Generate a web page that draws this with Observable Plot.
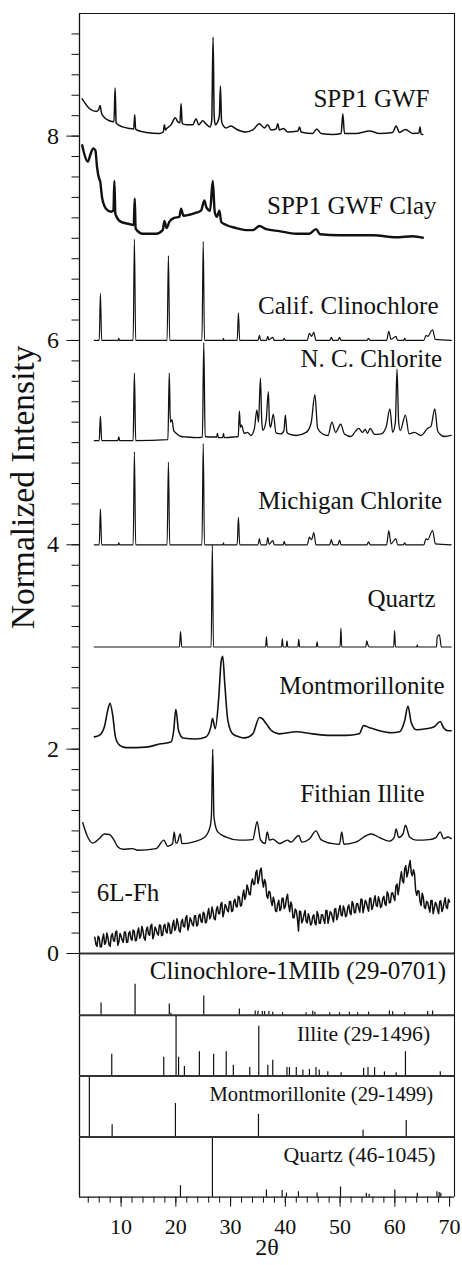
<!DOCTYPE html>
<html><head><meta charset="utf-8">
<script src="https://cdn.jsdelivr.net/npm/d3@7"></script>
<script src="https://cdn.jsdelivr.net/npm/@observablehq/plot@0.6"></script>
<style>html,body{margin:0;padding:0;background:#fff;} svg{display:block;}</style>
</head><body><div id="chart"></div>
<script>
// ---------- data: patterns as [2θ, normalized intensity above the trace's offset] ----------
const sampleNames = ["SPP1 GWF","SPP1 GWF Clay","Calif. Clinochlore","N. C. Chlorite","Michigan Chlorite","Quartz","Montmorillonite","Fithian Illite","6L-Fh"];
const sampleOffsets = [8,7,6,5,4,3,2,1,0];

const spp1Gwf = [[2.9,0.365],[4.21,0.27],[5.42,0.24],[5.9,0.26],[6.16,0.30],[6.4,0.23],[6.64,0.20],[7.86,0.15],[8.7,0.14],[8.9,0.47],[9.1,0.13],[9.2,0.12],[10.3,0.09],[11.5,0.075],[12.3,0.07],[12.49,0.21],[12.65,0.07],[12.85,0.06],[14.56,0.036],[17.0,0.026],[17.7,0.04],[17.91,0.11],[18.1,0.06],[18.34,0.075],[19.1,0.11],[19.9,0.18],[20.35,0.14],[20.75,0.13],[20.95,0.32],[21.15,0.13],[21.26,0.12],[22.17,0.11],[23.09,0.11],[23.7,0.17],[24.18,0.11],[24.9,0.15],[25.5,0.12],[26.25,0.09],[26.55,0.15],[26.8,0.97],[27.0,0.2],[27.2,0.11],[27.65,0.14],[27.95,0.2],[28.14,0.49],[28.35,0.15],[28.57,0.11],[29.18,0.08],[30.09,0.10],[31.0,0.07],[32.83,0.04],[34.05,0.06],[35.27,0.12],[36.18,0.08],[36.79,0.11],[37.4,0.06],[38.3,0.07],[38.62,0.12],[38.9,0.06],[39.65,0.075],[40.44,0.04],[42.3,0.05],[42.58,0.09],[42.9,0.04],[43.2,0.036],[45.0,0.026],[45.74,0.07],[46.5,0.026],[48.7,0.016],[50.2,0.026],[50.5,0.22],[50.8,0.026],[52.9,0.026],[55.4,0.05],[57.2,0.026],[59.6,0.036],[60.24,0.10],[60.85,0.036],[61.94,0.065],[63.28,0.026],[64.4,0.03],[64.6,0.09],[64.8,0.02],[65.1,0.016]];

const spp1Clay = [[2.9,0.91],[3.3,0.82],[3.9,0.75],[4.4,0.82],[4.9,0.88],[5.3,0.86],[5.6,0.7],[5.9,0.6],[6.2,0.55],[6.52,0.40],[7.25,0.29],[8.17,0.26],[8.6,0.27],[8.77,0.56],[8.95,0.24],[9.08,0.22],[9.99,0.16],[11.5,0.14],[12.3,0.13],[12.49,0.39],[12.65,0.1],[12.85,0.08],[13.95,0.045],[16.39,0.045],[17.6,0.08],[17.91,0.17],[18.3,0.10],[18.8,0.16],[19.7,0.20],[20.65,0.21],[20.95,0.29],[21.4,0.22],[22.5,0.23],[23.7,0.25],[24.6,0.27],[25.2,0.37],[25.6,0.30],[26.25,0.27],[26.74,0.56],[27.1,0.26],[27.5,0.21],[27.96,0.27],[28.3,0.16],[29.2,0.13],[31.0,0.10],[32.8,0.08],[34.05,0.08],[35.27,0.12],[36.5,0.09],[38.9,0.07],[42.0,0.045],[44.4,0.045],[45.6,0.09],[46.35,0.04],[49.9,0.03],[54.1,0.03],[56.0,0.03],[60.2,0.01],[63.3,0.02],[65.1,0.005]];

const califClinochlore = [[5.1,0],[6.0,0],[6.22,0.46],[6.45,0],[9.45,0],[9.57,0.02],[9.7,0],[12.2,0],[12.43,0.99],[12.66,0],[18.4,0],[18.64,0.83],[18.88,0],[24.77,0],[25.0,0.97],[25.23,0],[28.6,0],[28.69,0.02],[28.8,0],[31.2,0],[31.43,0.27],[31.66,0],[35.0,0],[35.27,0.05],[35.5,0],[36.55,0],[36.79,0.04],[37.0,0.005],[37.7,0.03],[38.0,0],[39.6,0],[39.8,0.02],[40.0,0],[44.0,0],[44.4,0.07],[44.8,0.04],[45.2,0.08],[45.6,0],[48.1,0],[48.4,0.03],[48.7,0],[49.6,0],[49.9,0.03],[50.2,0],[54.9,0],[55.2,0.02],[55.5,0],[58.5,0],[58.9,0.09],[59.3,0.01],[60.2,0.04],[60.5,0],[61.6,0],[61.8,0.02],[62.0,0],[65.3,0],[65.7,0.05],[66.0,0.04],[66.9,0.105],[67.4,0.01],[70.3,0]];

const ncChlorite = [[5.1,0.02],[6.0,0.02],[6.22,0.26],[6.45,0.02],[9.4,0.02],[9.57,0.055],[9.75,0.02],[12.2,0.02],[12.43,0.68],[12.66,0.02],[18.55,0.03],[18.8,0.68],[19.0,0.2],[19.3,0.225],[19.6,0.12],[20.0,0.095],[21.0,0.06],[22.0,0.055],[24.0,0.05],[24.85,0.055],[25.1,0.98],[25.35,0.06],[26.7,0.055],[27.45,0.055],[27.6,0.09],[27.75,0.05],[28.55,0.05],[28.7,0.09],[28.85,0.05],[30.5,0.055],[31.4,0.06],[31.6,0.31],[31.8,0.15],[32.0,0.17],[32.5,0.09],[33.1,0.10],[33.7,0.07],[34.35,0.14],[34.8,0.32],[35.1,0.2],[35.45,0.63],[35.7,0.2],[35.9,0.12],[36.5,0.22],[36.9,0.50],[37.1,0.2],[37.3,0.15],[37.8,0.28],[38.3,0.095],[39.2,0.085],[39.75,0.12],[40.0,0.27],[40.3,0.1],[40.6,0.085],[42.0,0.07],[43.8,0.10],[44.7,0.19],[45.4,0.47],[45.9,0.14],[46.8,0.085],[47.8,0.07],[48.5,0.20],[49.2,0.1],[50.1,0.18],[50.8,0.085],[52.0,0.06],[52.8,0.11],[53.4,0.14],[54.1,0.1],[54.6,0.13],[55.0,0.09],[55.5,0.14],[56.3,0.08],[57.5,0.085],[58.4,0.15],[59.1,0.33],[59.6,0.10],[60.1,0.2],[60.4,0.72],[60.7,0.2],[61.0,0.12],[61.94,0.27],[62.6,0.085],[63.6,0.10],[64.8,0.07],[66.0,0.14],[66.6,0.16],[67.3,0.33],[67.8,0.12],[68.2,0.085],[69.1,0.06],[70.3,0.07]];

const michiganChlorite = [[5.1,0],[6.0,0],[6.22,0.35],[6.45,0],[9.45,0],[9.57,0.02],[9.7,0],[12.2,0],[12.43,0.91],[12.66,0],[18.4,0],[18.64,0.81],[18.88,0],[24.77,0],[25.0,0.99],[25.23,0],[28.6,0],[28.7,0.02],[28.8,0],[31.2,0],[31.43,0.27],[31.66,0],[35.0,0],[35.27,0.06],[35.5,0],[36.55,0],[36.79,0.07],[37.05,0.005],[37.7,0.04],[38.0,0],[39.6,0],[39.8,0.035],[40.0,0],[44.0,0],[44.4,0.075],[44.8,0.05],[45.2,0.12],[45.6,0],[48.1,0],[48.4,0.05],[48.7,0],[49.6,0],[49.9,0.045],[50.2,0],[54.9,0],[55.2,0.03],[55.5,0],[58.5,0],[58.9,0.14],[59.3,0.01],[60.2,0.06],[60.5,0],[61.6,0],[61.8,0.02],[62.0,0],[65.3,0],[65.7,0.06],[66.0,0.05],[66.9,0.14],[67.4,0.01],[70.3,0]];

const quartz = [[5.1,0],[20.65,0],[20.86,0.15],[21.07,0],[26.45,0],[26.66,1.0],[26.87,0],[36.4,0],[36.55,0.10],[36.7,0],[39.3,0],[39.45,0.08],[39.6,0],[40.15,0],[40.3,0.06],[40.45,0],[42.3,0],[42.45,0.075],[42.6,0],[45.65,0],[45.8,0.05],[45.95,0],[50.0,0],[50.15,0.185],[50.3,0],[54.7,0],[54.87,0.06],[55.1,0.02],[55.3,0],[59.8,0],[59.96,0.16],[60.12,0],[64.0,0],[64.1,0.02],[64.2,0],[67.6,0],[67.75,0.10],[68.15,0.12],[68.3,0.07],[68.5,0],[70.3,0]];

const montmorillonite = [[5.12,0.12],[6.0,0.135],[6.95,0.22],[7.56,0.38],[7.98,0.45],[8.47,0.33],[8.96,0.12],[9.69,0.04],[10.9,0.015],[14.56,0.02],[17.0,0.05],[19.1,0.07],[19.6,0.18],[20.0,0.39],[20.5,0.18],[21.3,0.11],[23.7,0.10],[25.5,0.12],[26.4,0.22],[26.7,0.30],[27.2,0.20],[27.8,0.48],[28.3,0.87],[28.57,0.91],[28.9,0.67],[29.5,0.28],[30.4,0.15],[31.6,0.12],[32.5,0.11],[34.05,0.15],[35.27,0.31],[35.75,0.30],[36.5,0.25],[37.4,0.185],[38.9,0.15],[42.0,0.17],[45.0,0.15],[48.1,0.135],[51.1,0.135],[53.5,0.15],[54.3,0.23],[55.4,0.21],[57.2,0.18],[59.3,0.16],[60.85,0.17],[61.76,0.27],[62.4,0.42],[63.0,0.26],[63.9,0.19],[65.7,0.20],[67.2,0.22],[68.3,0.27],[68.9,0.21],[69.7,0.18],[70.3,0.18]];

const fithianIllite = [[2.99,0.28],[3.9,0.14],[4.8,0.08],[6.03,0.125],[6.95,0.17],[7.86,0.165],[8.65,0.115],[9.38,0.045],[10.3,0.02],[12.1,0.027],[13.0,0.01],[16.4,0.027],[17.8,0.11],[18.5,0.05],[19.4,0.075],[19.7,0.19],[20.0,0.08],[20.2,0.08],[20.8,0.17],[21.1,0.075],[23.1,0.09],[25.2,0.135],[26.25,0.24],[26.5,0.35],[26.74,1.0],[26.95,0.35],[27.05,0.30],[27.65,0.19],[29.2,0.14],[31.6,0.11],[34.05,0.115],[34.85,0.29],[35.45,0.115],[36.3,0.076],[36.7,0.19],[37.1,0.11],[37.7,0.12],[38.9,0.076],[40.4,0.11],[41.0,0.09],[42.45,0.155],[43.0,0.09],[44.4,0.12],[45.6,0.20],[46.5,0.115],[48.7,0.075],[49.9,0.07],[50.3,0.19],[50.7,0.07],[52.9,0.09],[54.8,0.155],[55.7,0.17],[57.2,0.135],[59.0,0.10],[59.9,0.14],[60.24,0.22],[60.7,0.135],[61.5,0.17],[61.94,0.255],[62.7,0.14],[63.9,0.11],[66.3,0.115],[67.5,0.135],[68.3,0.19],[68.9,0.125],[69.7,0.14],[70.3,0.125]];

// 6L-Fh raw noisy scan: readings on the 0.4° grid from 5.2°, and on the in-between grid from 5.4°
const fhStart = 5.2, fhStep = 0.4;
const fhIntensity = [.16,.07,.155,.065,.19,.11,.155,.07,.195,.12,
.22,.115,.17,.11,.21,.11,.215,.13,.215,.13,
.25,.175,.22,.13,.26,.18,.285,.18,.235,.18,
.275,.18,.285,.20,.285,.20,.325,.25,.295,.21,
.335,.26,.37,.27,.325,.27,.37,.28,.385,.305,
.39,.31,.44,.365,.41,.33,.46,.39,.50,.40,
.46,.41,.51,.42,.53,.455,.55,.47,.62,.565,
.635,.575,.73,.68,.815,.73,.835,.65,.69,.54,
.60,.47,.51,.41,.52,.44,.54,.46,.58,.41,
.47,.35,.42,.22,.41,.325,.42,.30,.35,.29,
.38,.28,.38,.295,.38,.295,.42,.35,.395,.31,
.44,.365,.47,.37,.43,.375,.475,.38,.485,.40,
.49,.405,.53,.455,.50,.415,.54,.46,.565,.46,
.52,.465,.56,.47,.58,.50,.595,.52,.68,.65,
.80,.69,.86,.79,.91,.76,.78,.57,.61,.47,
.55,.44,.50,.405,.52,.44,.48,.39,.515,.44,
.545,.44,.505];
const fhIntensityMid = [.09,.17,.065,.145,.09,.20,.085,.17,.125,.21,
.08,.195,.13,.21,.11,.20,.145,.23,.125,.21,
.15,.265,.15,.23,.19,.27,.145,.26,.195,.28,
.175,.27,.215,.30,.195,.28,.225,.34,.225,.31,
.265,.35,.23,.35,.285,.37,.27,.37,.315,.405,
.30,.39,.34,.455,.34,.43,.39,.48,.36,.48,
.42,.51,.41,.51,.46,.56,.465,.565,.53,.67,
.58,.69,.675,.79,.685,.815,.71,.725,.565,.61,
.51,.55,.415,.485,.42,.54,.44,.54,.47,.505,
.35,.435,.345,.415,.30,.38,.315,.39,.28,.36,
.30,.41,.295,.38,.33,.42,.295,.41,.35,.435,
.33,.43,.375,.465,.36,.45,.40,.51,.40,.485,
.44,.53,.40,.52,.45,.54,.43,.52,.47,.555,
.45,.54,.485,.605,.495,.59,.55,.66,.575,.735,
.71,.83,.75,.86,.79,.82,.62,.615,.51,.59,
.45,.51,.45,.52,.39,.50,.43,.51,.41,.50,
.45,.53];

// ---------- reference stick patterns (2θ, fraction of panel height) ----------
const refNames = ["Clinochlore-1MIIb (29-0701)","Illite (29-1496)","Montmorillonite (29-1499)","Quartz (46-1045)"];
const clinoStickX = [6.34,12.55,18.8,19.1,25.1,31.6,34.5,35.0,35.8,36.2,37.0,37.7,39.5,43.8,45.0,45.4,48.1,49.9,51.7,53.2,55.2,59.0,59.6,61.8,66.0,66.9];
const clinoStickH = [0.20,0.50,0.18,0.03,0.31,0.10,0.07,0.07,0.06,0.06,0.06,0.05,0.04,0.04,0.065,0.05,0.04,0.04,0.05,0.04,0.05,0.07,0.055,0.04,0.06,0.07];
const illiteStickX = [8.29,17.79,20.04,20.5,21.56,24.3,26.9,29.2,30.5,33.5,35.15,36.8,37.7,40.3,40.75,42.0,43.2,44.4,45.6,46.2,47.75,50.2,54.3,55.1,56.3,58.1,60.24,61.94,68.3];
const illiteStickH = [0.36,0.31,1.0,0.31,0.16,0.40,0.36,0.40,0.18,0.14,0.82,0.18,0.26,0.14,0.14,0.14,0.10,0.11,0.14,0.10,0.07,0.055,0.13,0.14,0.14,0.07,0.055,0.40,0.07];
const montStickX = [4.2,8.36,19.92,35.09,54.2,62.08];
const montStickH = [1.0,0.20,0.55,0.37,0.11,0.27];
const quartzStickX = [20.84,26.68,36.55,39.42,40.2,42.4,45.8,50.08,54.8,55.3,60.0,64.1,67.7,68.1,68.4];
const quartzStickH = [0.19,1.0,0.12,0.11,0.07,0.09,0.07,0.17,0.065,0.045,0.12,0.065,0.09,0.08,0.065];

// ---------- axis ticks ----------
const xTickLabels = [10,20,30,40,50,60,70];
const yTickLabels = [0,2,4,6,8];

// ---------- layout (not data) ----------
const X0 = 2.4, X1 = 70.9, YTOP = 9.2;
const panelEdges = [0, -0.604, -1.2, -1.795, -2.385];
const sampleLabelPos = [[66.33,8.287],[67.61,7.233],[67.98,6.261],[68.65,5.738],[68.65,4.352],[67.43,3.389],[69.07,2.541],[65.42,1.481],[5.56,0.518]];
const refLabelPos = [[69.38,-0.248,25],[66.46,-0.852,21.7],[67.01,-1.446,20.6],[67.43,-2.043,21.8]];

const FONT = "'Liberation Serif','Times New Roman',serif";
const INK = "#111";

const traces = [spp1Gwf, spp1Clay, califClinochlore, ncChlorite, michiganChlorite, quartz, montmorillonite, fithianIllite];
const traceWidths = [1.5, 2.4, 1.2, 1.3, 1.2, 1.2, 1.6, 1.4];

const marks = [];
traces.forEach((pts, i) => {
  const data = pts.map(([x, v]) => ({x, y: v + sampleOffsets[i]}));
  marks.push(Plot.line(data, {x: "x", y: "y", stroke: INK, strokeWidth: traceWidths[i], strokeLinejoin: "round", curve: "monotone-x"}));
});
const fhData = [];
fhIntensity.forEach((v, i) => {
  fhData.push({x: fhStart + i * fhStep, y: v + sampleOffsets[8]});
  if (i < fhIntensityMid.length) fhData.push({x: fhStart + (i + 0.5) * fhStep, y: fhIntensityMid[i] + sampleOffsets[8]});
});
marks.push(Plot.line(fhData, {x: "x", y: "y", stroke: INK, strokeWidth: 1.5}));

// sticks
const stickSets = [[clinoStickX, clinoStickH],[illiteStickX, illiteStickH],[montStickX, montStickH],[quartzStickX, quartzStickH]];
stickSets.forEach(([xs, hs], p) => {
  const base = panelEdges[p + 1], span = panelEdges[p] - panelEdges[p + 1];
  const data = xs.map((x, k) => ({x, y1: base, y2: base + hs[k] * span}));
  marks.push(Plot.ruleX(data, {x: "x", y1: "y1", y2: "y2", stroke: INK, strokeWidth: 1.2}));
});

// frame
marks.push(Plot.ruleX([X0], {y1: panelEdges[4], y2: YTOP, stroke: INK, strokeWidth: 1.3}));
marks.push(Plot.ruleX([X1], {y1: panelEdges[4], y2: YTOP, stroke: INK, strokeWidth: 1.1}));
marks.push(Plot.ruleY([YTOP], {x1: X0, x2: X1, stroke: INK, strokeWidth: 1.1}));
marks.push(Plot.ruleY(panelEdges.slice(0, 4), {x1: X0, x2: X1, stroke: "#333", strokeWidth: 2}));
marks.push(Plot.ruleY([panelEdges[4]], {x1: X0, x2: X1, stroke: INK, strokeWidth: 1.3}));

// axes
marks.push(Plot.axisY({ticks: yTickLabels, tickSize: 12.6, tickPadding: 8, fontSize: 24, fontFamily: FONT, label: null, tickFormat: d => String(d), stroke: INK, fill: INK}));
marks.push(Plot.axisY({ticks: d3.range(0, 9.01, 0.2), tickSize: 7.5, label: null, tickFormat: () => "", stroke: INK}));
marks.push(Plot.axisX({ticks: xTickLabels, tickSize: 10, tickPadding: 11, fontSize: 22, fontFamily: FONT, label: null, stroke: INK, fill: INK}));
marks.push(Plot.axisX({ticks: d3.range(4, 70.1, 2), tickSize: 6, label: null, tickFormat: () => "", stroke: INK}));

// labels
marks.push(Plot.text(sampleNames.slice(0, 8), {
  x: (d, i) => sampleLabelPos[i][0], y: (d, i) => sampleLabelPos[i][1], text: d => d,
  textAnchor: "end", lineAnchor: "bottom", fontSize: 25, fontFamily: FONT, fill: INK
}));
marks.push(Plot.text([sampleNames[8]], {
  x: () => sampleLabelPos[8][0], y: () => sampleLabelPos[8][1], text: d => d,
  textAnchor: "start", lineAnchor: "bottom", fontSize: 25, fontFamily: FONT, fill: INK
}));
refNames.forEach((name, i) => {
  marks.push(Plot.text([name], {
    x: () => refLabelPos[i][0], y: () => refLabelPos[i][1], text: d => d,
    textAnchor: "end", lineAnchor: "bottom", fontSize: refLabelPos[i][2], fontFamily: FONT, fill: INK
  }));
});
marks.push(Plot.text(["Normalized Intensity"], {frameAnchor: "left", textAnchor: "middle", text: d => d, rotate: -90, dx: -56, dy: -118, fontSize: 33.5, fontFamily: FONT, fill: INK}));
marks.push(Plot.text(["2θ"], {frameAnchor: "bottom", textAnchor: "middle", text: d => d, dy: 58, fontSize: 24, fontFamily: FONT, fill: INK}));

const chart = Plot.plot({
  width: 462, height: 1265,
  marginLeft: 79, marginRight: 8, marginTop: 13, marginBottom: 68.3,
  x: {domain: [X0, X1]},
  y: {domain: [panelEdges[4], YTOP]},
  style: {fontFamily: FONT, background: "#fff", color: INK},
  marks
});
document.getElementById("chart").appendChild(chart);
</script></body></html>
